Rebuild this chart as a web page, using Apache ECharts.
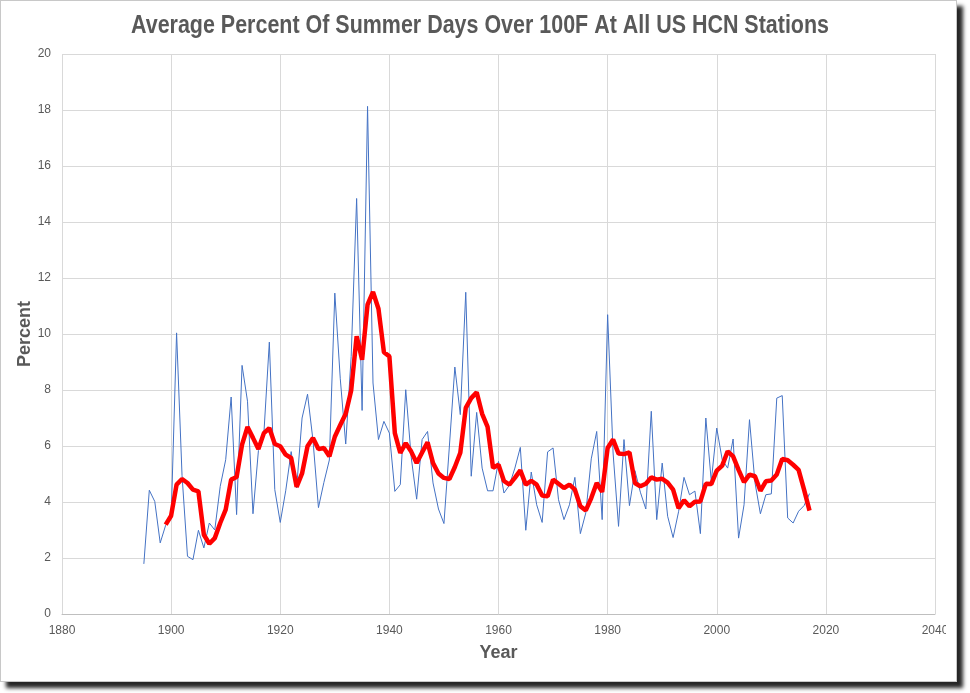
<!DOCTYPE html>
<html>
<head>
<meta charset="utf-8">
<script src="https://cdn.jsdelivr.net/npm/echarts@6/dist/echarts.min.js"></script>
<style>
  html, body { margin: 0; padding: 0; background: #fff; }
  #panel {
    position: absolute; left: 0; top: 0; width: 957px; height: 682px;
    background: #fff; border: 1px solid #c8c8c8; box-sizing: border-box;
    box-shadow: 6px 6px 4px rgba(0, 0, 0, 0.85);
  }
  #chart { position: absolute; left: 0; top: 0; width: 946px; height: 693px; overflow: hidden; }
</style>
</head>
<body>
<div id="panel"></div>
<div id="chart"></div>
<script>
// yearly values, blue series starts 1895
var blueStart = 1895;
var yearlyPct = [
    1.79, 4.42, 4.02, 2.54, 3.17, 3.40, 10.04, 4.95, 2.06, 1.94,
    2.99, 2.36, 3.25, 3.00, 4.56, 5.51, 7.75, 3.55, 8.88, 7.60,
    3.58, 5.84, 6.45, 9.71, 4.44, 3.27, 4.40, 5.80, 4.50, 7.00,
    7.85, 6.20, 3.80, 4.70, 5.50, 11.46, 8.40, 6.07, 9.20, 14.84,
    7.27, 18.13, 8.25, 6.23, 6.88, 6.46, 4.38, 4.62, 8.01, 5.60,
    4.10, 6.23, 6.52, 4.68, 3.75, 3.23, 6.00, 8.82, 7.12, 11.49,
    4.92, 7.20, 5.21, 4.40, 4.40, 5.45, 4.32, 4.60, 5.21, 5.95,
    2.99, 5.07, 3.90, 3.27, 5.79, 5.93, 4.08, 3.37, 3.90, 4.88,
    2.87, 3.61, 5.54, 6.52, 3.37, 10.69, 5.75, 3.13, 6.23, 3.87,
    5.12, 4.35, 3.75, 7.24, 3.37, 5.39, 3.49, 2.73, 3.65, 4.88,
    4.26, 4.39, 2.87, 7.00, 4.74, 6.64, 5.51, 5.21, 6.25, 2.71,
    3.90, 6.94, 4.70, 3.58, 4.26, 4.29, 7.71, 7.80, 3.43, 3.25,
    3.67, 3.87, 4.30
];

// smoothed (red) series, starts 1899
var redStart = 1899;
var smoothPct = [
    3.19, 3.51, 4.62, 4.82, 4.68, 4.44, 4.38, 2.83, 2.51, 2.71,
    3.25, 3.73, 4.80, 4.89, 6.05, 6.68, 6.29, 5.89, 6.46, 6.64,
    6.07, 5.99, 5.69, 5.57, 4.54, 5.02, 5.99, 6.29, 5.89, 5.93,
    5.63, 6.33, 6.75, 7.15, 7.98, 9.92, 9.08, 11.05, 11.50, 10.90,
    9.35, 9.20, 6.46, 5.75, 6.10, 5.80, 5.39, 5.77, 6.13, 5.39,
    5.02, 4.86, 4.82, 5.25, 5.76, 7.36, 7.71, 7.92, 7.15, 6.68,
    5.22, 5.33, 4.75, 4.62, 4.86, 5.13, 4.62, 4.76, 4.62, 4.23,
    4.20, 4.80, 4.65, 4.50, 4.62, 4.44, 3.85, 3.70, 4.14, 4.68,
    4.36, 5.93, 6.23, 5.73, 5.71, 5.77, 4.68, 4.56, 4.65, 4.88,
    4.80, 4.83, 4.69, 4.44, 3.78, 4.06, 3.85, 4.01, 4.02, 4.65,
    4.64, 5.12, 5.30, 5.81, 5.63, 5.15, 4.71, 4.98, 4.92, 4.40,
    4.74, 4.77, 4.98, 5.54, 5.49, 5.33, 5.15, 4.44, 3.69
];

var xTicks = [1880, 1900, 1920, 1940, 1960, 1980, 2000, 2020, 2040];
var yTicks = [0, 2, 4, 6, 8, 10, 12, 14, 16, 18, 20];
var titleText = 'Average Percent Of Summer Days Over 100F At All US HCN Stations';

function pairs(start, arr) {
    var out = [];
    for (var i = 0; i < arr.length; i++) out.push([start + i, arr[i]]);
    return out;
}

var fontFam = '"Liberation Sans Narrow", "Liberation Sans", Arial, sans-serif';
var grey = '#595959';

// squeeze the title so it looks like the condensed face of the original
var titleFont = 'bold 25px ' + fontFam;
var ctx = document.createElement('canvas').getContext('2d');
ctx.font = titleFont;
var titleScale = Math.min(1, 698 / ctx.measureText(titleText).width);

var chart = echarts.init(document.getElementById('chart'), null, { renderer: 'canvas' });
chart.setOption({
    animation: false,
    graphic: [{
        type: 'text', x: 480, y: 26, scaleX: titleScale, scaleY: 1,
        style: { text: titleText, font: titleFont, fill: grey, align: 'center', verticalAlign: 'middle' }
    }],
    grid: { left: 62, right: 11, top: 54, bottom: 79, outerBoundsMode: 'none', containLabel: false },
    xAxis: {
        type: 'value',
        min: xTicks[0], max: xTicks[xTicks.length - 1], interval: 20,
        name: 'Year', nameLocation: 'middle', nameGap: 30, nameMoveOverlap: false,
        nameTextStyle: { fontFamily: fontFam, fontSize: 18, fontWeight: 'bold', color: grey },
        axisLine: { lineStyle: { color: '#bfbfbf' } },
        axisTick: { show: false },
        splitLine: { show: true, lineStyle: { color: '#d9d9d9' } },
        axisLabel: { fontFamily: fontFam, fontSize: 12, color: grey, margin: 11,
                     formatter: function (v) { return String(v); } }
    },
    yAxis: {
        type: 'value',
        min: yTicks[0], max: yTicks[yTicks.length - 1], interval: 2,
        name: 'Percent', nameLocation: 'middle', nameGap: 28, nameRotate: 90, nameMoveOverlap: false,
        nameTextStyle: { fontFamily: fontFam, fontSize: 18, fontWeight: 'bold', color: grey },
        axisLine: { show: false },
        axisTick: { show: false },
        splitLine: { lineStyle: { color: '#d9d9d9' } },
        axisLabel: { fontFamily: fontFam, fontSize: 12, color: grey, margin: 11 }
    },
    series: [
        {
            name: 'Yearly', type: 'line', data: pairs(blueStart, yearlyPct),
            showSymbol: false, lineStyle: { color: '#4472C4', width: 1 }, z: 2
        },
        {
            name: 'Smoothed', type: 'line', data: pairs(redStart, smoothPct),
            showSymbol: false, lineStyle: { color: '#FF0000', width: 4.5 }, z: 3
        }
    ]
});
</script>
</body>
</html>
